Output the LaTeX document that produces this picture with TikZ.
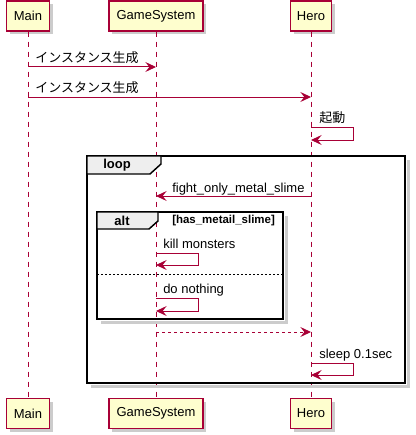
\documentclass[tikz,border=0pt]{standalone}
\usepackage{fontspec}
\setmainfont{Liberation Sans}
\newfontfamily\jpfont{Noto Sans CJK JP}
\usetikzlibrary{arrows.meta,shadows}
\definecolor{umlred}{HTML}{A80036}
\definecolor{umlbox}{HTML}{FEFECE}
\definecolor{umltab}{HTML}{EEEEEE}
\tikzset{
  actor/.style={draw=umlred, fill=umlbox, line width=1.1pt, minimum height=22.5pt, inner sep=0pt,
    font=\fontsize{9.75}{12}\selectfont,
    drop shadow={shadow xshift=2.5pt, shadow yshift=-2.5pt, fill=black!40, opacity=.5}},
  life/.style={umlred, line width=0.75pt, dash pattern=on 3.75pt off 3.75pt},
  msg/.style={umlred, line width=0.75pt, -{Stealth[length=8pt,width=7.5pt,inset=3pt]}},
  reply/.style={msg, dash pattern=on 2.25pt off 2.25pt},
  lbl/.style={anchor=base west, inner sep=0pt, font=\fontsize{9.75}{12}\selectfont},
  frame/.style={draw=black, line width=1.5pt},
  tab/.style={draw=black, fill=umltab, line width=1.1pt},
  tablbl/.style={inner sep=0pt, font=\bfseries\fontsize{9.75}{12}\selectfont},
  guard/.style={anchor=west, inner sep=0pt, font=\bfseries\fontsize{8.6}{10}\selectfont},
  fshadow/.style={black!20, line width=2.25pt}
}
\begin{document}
\begin{tikzpicture}[x=0.75pt,y=-0.75pt]
  \useasboundingbox (0,0) rectangle (415,435);
  % participants, top and bottom
  \node[actor, minimum width=32.25pt] (mainTop) at (28,16) {Main};
  \node[actor, minimum width=70.5pt]  (gameTop) at (156,16) {GameSystem};
  \node[actor, minimum width=30.75pt] (heroTop) at (311,16) {Hero};
  \node[actor, minimum width=32.25pt] (mainBot) at (28,413.5) {Main};
  \node[actor, minimum width=70.5pt]  (gameBot) at (156,413.5) {GameSystem};
  \node[actor, minimum width=30.75pt] (heroBot) at (311,413.5) {Hero};
  \draw[life] (mainTop) -- (mainBot);
  \draw[life] (gameTop) -- (gameBot);
  \draw[life] (heroTop) -- (heroBot);
  % loop frame
  \draw[fshadow] (408,160) -- (408,386) -- (91,386);
  \draw[frame] (87,156) rectangle (405,383);
  \draw[tab] (87,156) -- (161,156) -- (161,164) -- (150,174) -- (87,174) -- cycle;
  \node[tablbl] (loopLbl) at (117,165) {loop};
  % alt frame
  \draw[fshadow] (286,216) -- (286,322) -- (101,322);
  \draw[frame] (97,212) rectangle (283,319);
  \draw[tab] (97,212) -- (158,212) -- (158,221) -- (149,229) -- (97,229) -- cycle;
  \node[tablbl] (altLbl) at (122,220.5) {alt};
  \node[guard] (altGuard) at (172,220.5) {[has\_metail\_slime]};
  \draw[black, line width=0.75pt, dash pattern=on 1.5pt off 1.5pt] (97,274) -- (283,274);
  % messages
  \draw[msg] (mainTop |- 0,67) -- (gameTop |- 0,67);
  \node[lbl] (newGame) at (35,63) {\jpfont インスタンス生成};
  \draw[msg] (mainTop |- 0,97) -- (heroTop |- 0,97);
  \node[lbl] (newHero) at (35,93) {\jpfont インスタンス生成};
  \draw[msg] (heroTop |- 0,127) -| (353,140) -- (heroTop |- 0,140);
  \node[lbl] (boot) at (319,122) {\jpfont 起動};
  \draw[msg] (heroTop |- 0,196) -- (gameTop |- 0,196);
  \node[lbl] (fight) at (172,192) {fight\_only\_metal\_slime};
  \draw[msg] (gameTop |- 0,253) -| (198,265) -- (gameTop |- 0,265);
  \node[lbl] (kill) at (163,248) {kill monsters};
  \draw[msg] (gameTop |- 0,298) -| (198,311) -- (gameTop |- 0,311);
  \node[lbl] (nothing) at (163,293) {do nothing};
  \draw[reply] (gameTop |- 0,332) -- (heroTop |- 0,332);
  \draw[msg] (heroTop |- 0,363) -| (353,375) -- (heroTop |- 0,375);
  \node[lbl] (sleep) at (319,358) {sleep 0.1sec};
\end{tikzpicture}
\end{document}
